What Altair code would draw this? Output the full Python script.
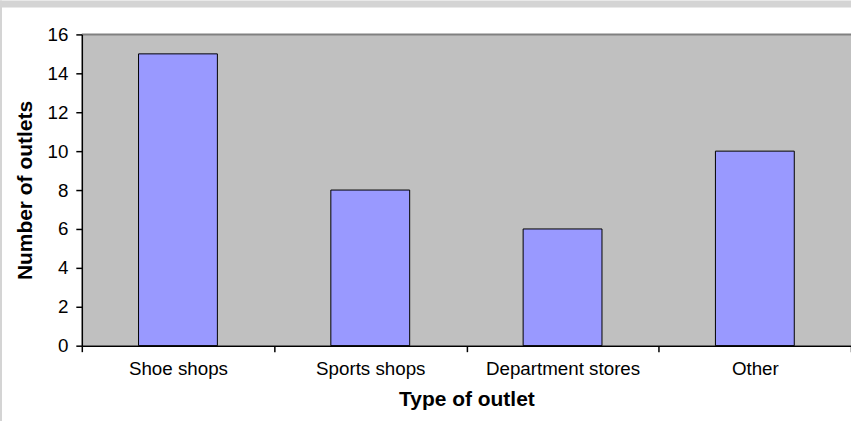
import altair as alt
import pandas as pd

# Outlet types and counts
categories = ["Shoe shops", "Sports shops", "Department stores", "Other"]
counts = [15, 8, 6, 10]
y_ticks = [0, 2, 4, 6, 8, 10, 12, 14, 16]

df = pd.DataFrame({"outlet": categories, "count": counts})
one = pd.DataFrame({"k": [0]})

W, H = 771, 312
FONT = "Liberation Sans"
FRAME = "#d4d4d4"

# light grey frame: a band along the top and a thin strip at the left
frame_top = alt.Chart(one).mark_rect(fill=FRAME).encode(
    x=alt.value(-82), x2=alt.value(W + 10),
    y=alt.value(-34), y2=alt.value(-27),
)
frame_left = alt.Chart(one).mark_rect(fill=FRAME).encode(
    x=alt.value(-82), x2=alt.value(-80),
    y=alt.value(-34), y2=alt.value(H + 80),
)

bars = alt.Chart(df).mark_bar(
    fill="#9999ff", stroke="black", strokeWidth=1,
    width=alt.RelativeBandSize(0.41),
).encode(
    x=alt.X(
        "outlet:N", sort=categories,
        scale=alt.Scale(paddingInner=0, paddingOuter=0),
        axis=alt.Axis(
            title="Type of outlet", labelAngle=0, tickBand="extent",
            tickSize=6, labelPadding=8, titlePadding=10, zindex=1,
        ),
    ),
    y=alt.Y(
        "count:Q",
        scale=alt.Scale(domain=[0, 16], nice=False),
        axis=alt.Axis(
            title="Number of outlets", values=y_ticks, grid=False,
            tickSize=6, labelPadding=8, titlePadding=12, zindex=1,
        ),
    ),
)

# darker border along the top of the plot area
top_edge = alt.Chart(one).mark_rule(color="#808080", strokeWidth=2).encode(
    x=alt.value(0), x2=alt.value(W), y=alt.value(0),
)

chart = alt.layer(frame_top, frame_left, bars, top_edge).properties(
    width=W, height=H,
    autosize=alt.AutoSizeParams(type="none"),
    padding={"left": 82, "top": 34, "right": 0, "bottom": 75},
    background="white",
).configure_view(
    stroke=None, fill="#c0c0c0",
).configure_axis(
    labelFont=FONT, titleFont=FONT,
    labelFontSize=18.8, titleFontSize=21, titleFontWeight="bold",
    labelColor="black", titleColor="black",
    domainColor="black", tickColor="black", domainWidth=1.5, tickWidth=1.5,
)

chart.save("out.html", embed_options={"renderer": "svg", "actions": False})
